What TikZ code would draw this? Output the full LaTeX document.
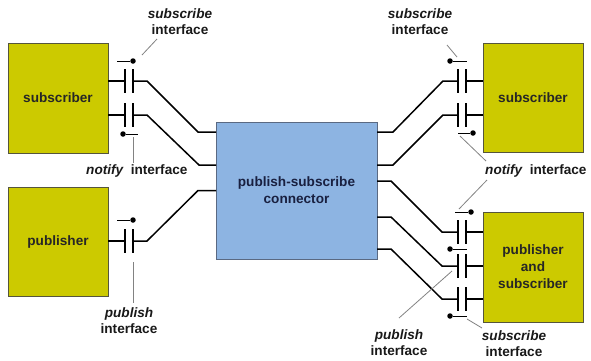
\documentclass[tikz,border=0pt]{standalone}
\usepackage{fontspec}
\setmainfont{Liberation Sans}
\definecolor{boxyel}{RGB}{204,202,0}
\definecolor{boxedge}{RGB}{85,85,60}
\definecolor{connblue}{RGB}{141,180,226}
\definecolor{connedge}{RGB}{90,105,130}
\definecolor{navytxt}{RGB}{25,32,64}
\definecolor{leadgrey}{RGB}{130,130,130}
\tikzset{
  ybox/.style={draw=boxedge, line width=1pt, fill=boxyel, inner sep=0pt, outer sep=0pt,
    font=\bfseries\fontsize{13.6}{17}\selectfont, text=black!85, align=center},
  cbox/.style={draw=connedge, line width=1pt, fill=connblue, inner sep=0pt, outer sep=0pt,
    font=\bfseries\fontsize{13.6}{17}\selectfont, text=navytxt, align=center},
  wire/.style={line width=1.5pt, black},
  plate/.style={line width=1.5pt, black},
  lead/.style={line width=0.8pt, leadgrey},
  lbl/.style={font=\bfseries\fontsize{13.6}{16}\selectfont, text=black!90, align=center, inner sep=0pt},
  ball/.style={circle, fill=black, inner sep=0pt, minimum size=5.5pt},
}
\newcommand{\capac}[2]{%
  \draw[plate] (#1,#2-12) -- (#1,#2+12);
  \draw[plate] (#1+8,#2-12) -- (#1+8,#2+12);}
\begin{document}
\begin{tikzpicture}[x=1pt,y=-1pt]
\useasboundingbox (0,0) rectangle (591,360);
% boxes
\node[ybox, minimum width=100pt, minimum height=110pt] (sub1) at (58,98) {subscriber};
\node[ybox, minimum width=100pt, minimum height=109pt] (pub) at (58,241.5) {publisher};
\node[cbox, minimum width=161pt, minimum height=137pt] (conn) at (296.5,190.5) {publish-subscribe\\connector};
\node[ybox, minimum width=100pt, minimum height=109pt] (sub2) at (533,97.5) {subscriber};
\node[ybox, minimum width=100pt, minimum height=110pt] (ps) at (533,267) {publisher\\and\\subscriber};
% left capacitors
\capac{125}{81}
\capac{125}{115}
\capac{125}{241}
% right capacitors
\capac{458}{81}
\capac{458}{115}
\capac{458}{232}
\capac{458}{266}
\capac{458}{299}
% coordinates
\coordinate (l1) at (125,81);  \coordinate (l1r) at (133,81);
\coordinate (l2) at (125,115); \coordinate (l2r) at (133,115);
\coordinate (l3) at (125,241); \coordinate (l3r) at (133,241);
\coordinate (r1) at (466,81);  \coordinate (r1l) at (458,81);
\coordinate (r2) at (466,115); \coordinate (r2l) at (458,115);
\coordinate (r3) at (466,232); \coordinate (r3l) at (458,232);
\coordinate (r4) at (466,266); \coordinate (r4l) at (458,266);
\coordinate (r5) at (466,299); \coordinate (r5l) at (458,299);
% left wires
\draw[wire] (sub1.east |- l1) -- (l1);
\draw[wire] (l1r) -- (147,81) -- (198,132) -- (conn.west |- 0,132);
\draw[wire] (sub1.east |- l2) -- (l2);
\draw[wire] (l2r) -- (147,115) -- (199,165) -- (conn.west |- 0,165);
\draw[wire] (pub.east |- l3) -- (l3);
\draw[wire] (l3r) -- (147,241) -- (198,190.5) -- (conn.west |- 0,190.5);
% right wires
\draw[wire] (sub2.west |- r1) -- (r1);
\draw[wire] (r1l) -- (443,81) -- (393,132) -- (conn.east |- 0,132);
\draw[wire] (sub2.west |- r2) -- (r2);
\draw[wire] (r2l) -- (443,115) -- (393,165) -- (conn.east |- 0,165);
\draw[wire] (ps.west |- r3) -- (r3);
\draw[wire] (r3l) -- (442,232) -- (391,181) -- (conn.east |- 0,181);
\draw[wire] (ps.west |- r4) -- (r4);
\draw[wire] (r4l) -- (442,266) -- (391,217) -- (conn.east |- 0,217);
\draw[wire] (ps.west |- r5) -- (r5);
\draw[wire] (r5l) -- (442,299) -- (391,249) -- (conn.east |- 0,249);
% balls (interface end points)
\node[ball] (b1) at (133,61) {};   \draw[wire, line width=1pt] (117,61) -- (b1);
\node[ball] (b2) at (123,134) {};  \draw[wire, line width=1pt] (b2) -- (138,134);
\node[ball] (b3) at (133,220) {};  \draw[wire, line width=1pt] (117,220) -- (b3);
\node[ball] (b4) at (450,61) {};   \draw[wire, line width=1pt] (b4) -- (467,61);
\node[ball] (b5) at (473,133) {};  \draw[wire, line width=1pt] (458,133) -- (b5);
\node[ball] (b6) at (471,212) {};  \draw[wire, line width=1pt] (455,212) -- (b6);
\node[ball] (b7) at (450,249) {};  \draw[wire, line width=1pt] (b7) -- (467,249);
\node[ball] (b8) at (450,316) {};  \draw[wire, line width=1pt] (b8) -- (467,316);
% labels
\node[lbl] (t1) at (180,22) {\itshape subscribe\\interface};
\node[lbl, anchor=west] (t2) at (86,171) {\itshape notify\upshape\ \ interface};
\node[lbl] (t3) at (129,321) {\itshape publish\\interface};
\node[lbl] (t4) at (420,22) {\itshape subscribe\\interface};
\node[lbl, anchor=west] (t5) at (485,171) {\itshape notify\upshape\ \ interface};
\node[lbl] (t6) at (399,343) {\itshape publish\\interface};
\node[lbl] (t7) at (514,344) {\itshape subscribe\\interface};
% leader lines
\draw[lead] (142,55) -- (157,39);
\draw[lead] (133,137) -- (133,163);
\draw[lead] (133,262) -- (133,303);
\draw[lead] (457,57) -- (447,45);
\draw[lead] (460,136) -- (486,161);
\draw[lead] (487,180) -- (459,209);
\draw[lead] (452,271) -- (399,318);
\draw[lead] (467,319) -- (482,328);
\end{tikzpicture}
\end{document}
